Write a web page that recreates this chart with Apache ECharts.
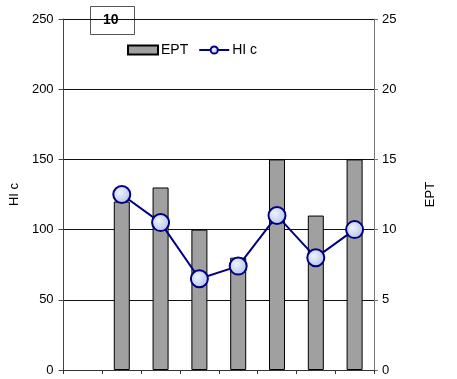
<!DOCTYPE html>
<html><head><meta charset="utf-8">
<script src="https://cdn.jsdelivr.net/npm/echarts@6/dist/echarts.min.js"></script>
<style>html,body{margin:0;padding:0;background:#fff}#c{width:457px;height:379px}</style>
</head><body><div id="c"></div>
<script>
var categories = ['', '', '', '', '', '', '', ''];
var eptValues = ['-', 12, 13, 10, 8, 15, 11, 15];
var hicValues = ['-', 125, 105, 65, 74, 110, 80, 100];
var leftTicks = [0, 50, 100, 150, 200, 250];
var rightTicks = [0, 5, 10, 15, 20, 25];
var boxLabel = '10';

var chart = echarts.init(document.getElementById('c'));
var font = 'Liberation Sans, Arial, sans-serif';
chart.setOption({
  animation: false,
  grid: {left: 58, right: 83, top: 19, bottom: 9},
  legend: {
    left: 122, top: 38, itemGap: 10, itemWidth: 30, itemHeight: 9,
    textStyle: {fontFamily: font, fontSize: 14, color: '#000', padding: [0,0,0,-2]},
    data: [{name: 'EPT', icon: 'rect'}, {name: 'HI c'}]
  },
  xAxis: {
    type: 'category', data: categories, boundaryGap: true,
    axisLine: {lineStyle: {color: '#333', width: 1}},
    axisTick: {show: true, length: 4, lineStyle: {color: '#333'}},
    axisLabel: {show: false}
  },
  yAxis: [{
    type: 'value', min: 0, max: 250, interval: 50, name: 'HI c',
    nameLocation: 'middle', nameGap: 37, nameRotate: 90,
    nameTextStyle: {fontFamily: font, fontSize: 13, color: '#000'},
    axisLine: {show: true, lineStyle: {color: '#444'}},
    axisTick: {show: true, length: 5, lineStyle: {color: '#444'}},
    axisLabel: {fontFamily: font, fontSize: 13, color: '#000', margin: 10,
      formatter: function(v){ return leftTicks.indexOf(v) >= 0 ? String(v) : ''; }},
    splitLine: {show: true, lineStyle: {color: '#111', width: 1}}
  }, {
    type: 'value', min: 0, max: 25, interval: 5, name: 'EPT',
    nameLocation: 'middle', nameGap: 50, nameRotate: 90,
    nameTextStyle: {fontFamily: font, fontSize: 13, color: '#000'},
    axisLine: {show: true, lineStyle: {color: '#777'}},
    axisTick: {show: true, length: 4, lineStyle: {color: '#777'}},
    axisLabel: {fontFamily: font, fontSize: 13, color: '#000', margin: 8,
      formatter: function(v){ return rightTicks.indexOf(v) >= 0 ? String(v) : ''; }},
    splitLine: {show: false}
  }],
  series: [{
    name: 'EPT', type: 'bar', yAxisIndex: 1, data: eptValues, barWidth: 16,
    itemStyle: {color: '#a0a0a0', borderColor: '#000', borderWidth: 1}
  }, {
    name: 'HI c', type: 'line', yAxisIndex: 0, data: hicValues,
    symbol: 'circle', symbolSize: 17, connectNulls: false,
    lineStyle: {color: '#000080', width: 2},
    itemStyle: {
      color: new echarts.graphic.RadialGradient(0.4, 0.4, 0.7, [
        {offset: 0, color: '#eef3ff'}, {offset: 1, color: '#aabde6'}]),
      borderColor: '#000080', borderWidth: 2
    }
  }],
  graphic: [{
    type: 'rect', left: 90, top: 6, shape: {width: 44, height: 28},
    style: {fill: '#fff', stroke: '#555', lineWidth: 1}
  }, {
    type: 'text', left: 103, top: 13,
    style: {text: boxLabel, font: 'bold 14px ' + font, fill: '#000'}
  }]
});
</script></body></html>
